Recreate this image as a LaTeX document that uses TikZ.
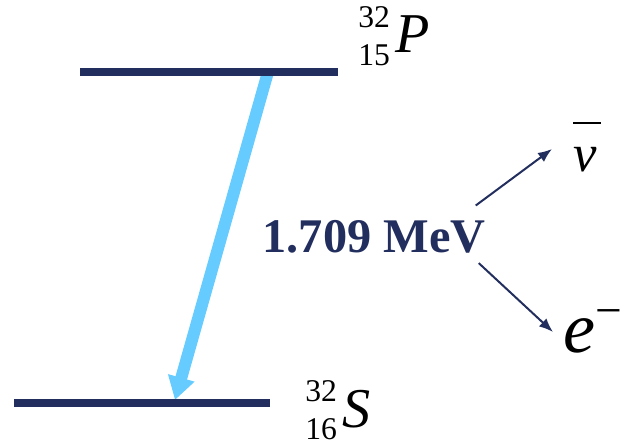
\documentclass[tikz,border=0pt]{standalone}
\usepackage{fontspec}
\setmainfont{Liberation Serif}
\usetikzlibrary{arrows.meta, positioning}
\definecolor{levelblue}{RGB}{34,46,94}
\definecolor{decayblue}{RGB}{102,204,255}
\tikzset{
  level/.style={line width=0.16cm, draw=levelblue},
  transition/.style={line width=0.24cm, draw=decayblue, -{Triangle[length=0.46cm, width=0.52cm]}},
  product/.style={line width=0.04cm, draw=levelblue, -{Latex[length=0.28cm, width=0.22cm]}},
  nucleus/.style={anchor=base west, inner sep=0pt},
  particle/.style={anchor=base west, inner sep=0pt},
  energylabel/.style={anchor=base, inner sep=0pt, text=levelblue, font=\fontsize{27.5}{27.5}\selectfont\bfseries}
}
% nucleo con masa (#1), numero atomico (#2) y simbolo (#3)
\newcommand{\nuclide}[3]{%
  \raisebox{-7pt}{\fontsize{18}{21.5}\selectfont\begin{tabular}[b]{@{}r@{}}#1\\#2\end{tabular}}%
  \hspace{3pt}{\fontsize{32}{32}\selectfont\itshape #3}}

\begin{document}
\begin{tikzpicture}[x=0.02cm, y=-0.02cm]
    \useasboundingbox (0,0) rectangle (621,445);

    % Transicion beta (debajo de los niveles)
    \coordinate (decay-start) at (268,72);
    \coordinate (decay-end) at (175,400);
    \draw[transition] (decay-start) -- (decay-end);

    % Niveles de energia
    \draw[level] (80,72) coordinate (P-left) -- (338,72) coordinate (P-right);
    \draw[level] (14,403) coordinate (S-left) -- (270,403) coordinate (S-right);

    % Nucleos
    \node[nucleus] (phosphorus) at (358,53) {\nuclide{32}{15}{P}};
    \node[nucleus] (sulfur) at (305,427) {\nuclide{32}{16}{S}};

    % Energia liberada y productos
    \node[energylabel] (energy) at (374,253) {1.709 MeV};
    \node[particle, font=\fontsize{30}{30}\selectfont] (nubar) at (573,172)
        {\makebox[0pt][l]{\raisebox{0.96cm}{\rule{0.56cm}{0.04cm}}}\textit{ν}};
    \node[particle, font=\fontsize{41}{41}\selectfont] (electron) at (563,353)
        {\textit{e}\raisebox{15pt}{\fontsize{27}{27}\selectfont −}};

    \draw[product] ([shift={(-10,-15)}]energy.north east) -- ([shift={(-21,-23)}]nubar.base west);
    \draw[product] ([shift={(-7,9)}]energy.south east) -- ([shift={(-10,-21)}]electron.base west);

\end{tikzpicture}
\end{document}
